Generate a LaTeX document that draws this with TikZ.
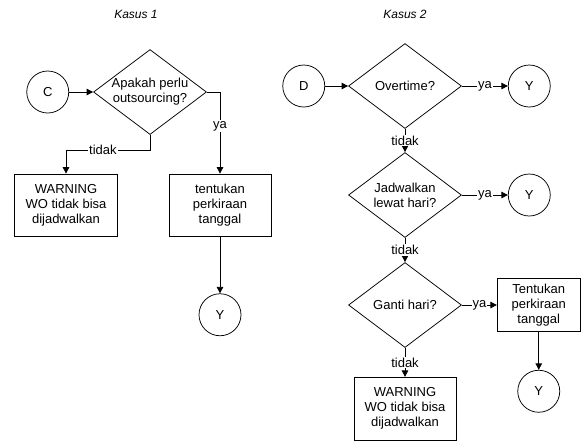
\documentclass[tikz,border=0pt]{standalone}
\usepackage{fontspec}
\setmainfont{Liberation Sans}
\usetikzlibrary{positioning, arrows.meta, shapes.geometric}
\tikzset{
    flowbox/.style={
        draw, rectangle, inner sep=2pt, align=center,
        minimum width=103pt, minimum height=62pt
    },
    flowdecision/.style={
        draw, diamond, inner sep=0pt, align=center, shape aspect=1.33,
        minimum width=113pt, minimum height=85pt
    },
    connector/.style={draw, circle, inner sep=0pt, minimum size=42pt},
    flow/.style={-{Triangle[length=6.5pt, width=6.5pt]}},
    flowlabel/.style={fill=white, inner sep=1pt},
    casetitle/.style={font=\fontsize{12}{14}\selectfont\itshape}
}

\begin{document}
\begin{tikzpicture}[x=1pt, y=-1pt, line width=0.75pt,
    every node/.style={font=\fontsize{13}{15}\selectfont}]
    \useasboundingbox (0,0) rectangle (581,440);

    \node[casetitle] (title1) at (136,14) {Kasus 1};
    \node[casetitle] (title2) at (405,14) {Kasus 2};

    \node[flowdecision] (q1) at (150,92) {Apakah perlu\\outsourcing?};
    \node[connector, left=24pt of q1] (c) {C};
    \node[flowbox] (warn1) at (66,205) {WARNING\\WO tidak bisa\\dijadwalkan};
    \node[flowbox, minimum width=102pt] (tent1) at (220,205) {tentukan\\perkiraan\\tanggal};
    \node[connector, below=57pt of tent1] (y1) {Y};

    \node[flowdecision] (ov) at (405,86) {Overtime?};
    \node[connector, left=23pt of ov] (d) {D};
    \node[connector, right=46pt of ov] (yo) {Y};
    \node[flowdecision] (jw) at (405,195) {Jadwalkan\\lewat hari?};
    \node[connector, right=46pt of jw] (yj) {Y};
    \node[flowdecision] (gh) at (405,305) {Ganti hari?};
    \node[flowbox, minimum width=83pt, minimum height=53pt, right=35pt of gh] (tent2) {Tentukan\\perkiraan\\tanggal};
    \node[connector, below=38pt of tent2] (y3) {Y};
    \node[flowbox, minimum width=102pt, minimum height=63pt, below=29pt of gh] (warn2) {WARNING\\WO tidak bisa\\dijadwalkan};

    \draw[flow] (c) -- (q1);
    \draw[flow] (q1.east) -| node[flowlabel, pos=0.71] {ya} (tent1.north);
    \draw[flow] (q1.south) -- ++(0,15) -| node[flowlabel, pos=0.28] {tidak} (warn1.north);
    \draw[flow] (tent1) -- (y1);

    \draw[flow] (d) -- (ov);
    \draw[flow] (ov) -- node[flowlabel] {ya} (yo);
    \draw[flow] (ov) -- node[flowlabel] {tidak} (jw);
    \draw[flow] (jw) -- node[flowlabel] {ya} (yj);
    \draw[flow] (jw) -- node[flowlabel] {tidak} (gh);
    \draw[flow] (gh) -- node[flowlabel] {ya} (tent2);
    \draw[flow] (gh) -- node[flowlabel] {tidak} (warn2);
    \draw[flow] (tent2) -- (y3);
\end{tikzpicture}
\end{document}
